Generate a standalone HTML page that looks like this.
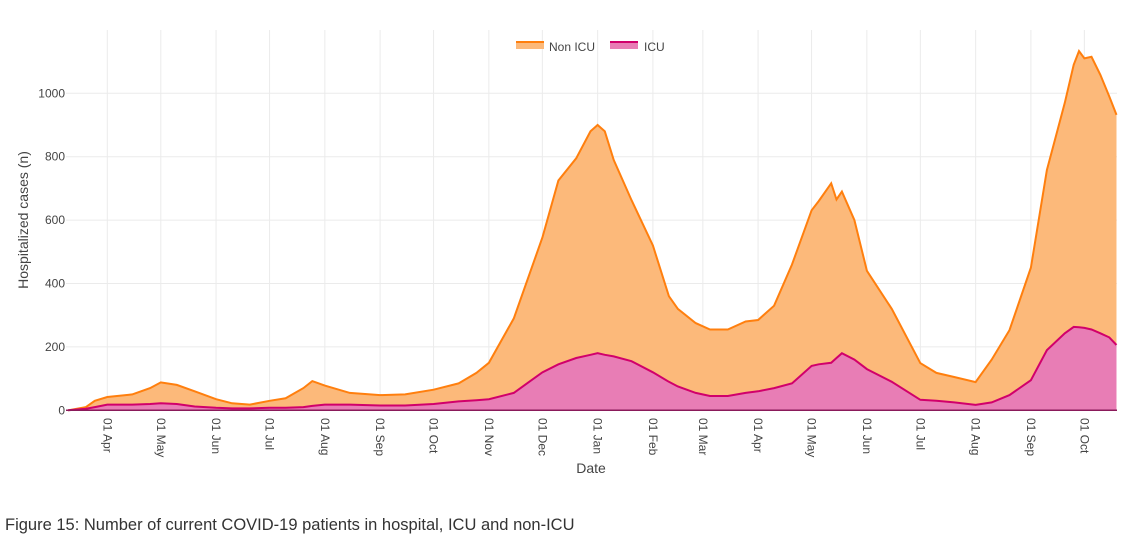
<!DOCTYPE html>
<html><head><meta charset="utf-8"><style>
body{margin:0;background:#fff;width:1126px;height:546px;overflow:hidden;font-family:"Liberation Sans",sans-serif}
svg text{font-family:"Liberation Sans",sans-serif}
</style></head><body>
<svg id="chart" width="1126" height="546" viewBox="0 0 1126 546"></svg>
<script>
const dates=["2020-03-10","2020-03-20","2020-03-25","2020-04-01","2020-04-15","2020-04-25","2020-05-01","2020-05-10","2020-05-20","2020-06-01","2020-06-10","2020-06-20","2020-07-01","2020-07-10","2020-07-20","2020-07-25","2020-08-01","2020-08-15","2020-09-01","2020-09-15","2020-10-01","2020-10-15","2020-10-25","2020-11-01","2020-11-15","2020-12-01","2020-12-10","2020-12-20","2020-12-28","2021-01-01","2021-01-05","2021-01-10","2021-01-20","2021-02-01","2021-02-10","2021-02-15","2021-02-25","2021-03-05","2021-03-15","2021-03-25","2021-04-01","2021-04-10","2021-04-20","2021-05-01","2021-05-05","2021-05-12","2021-05-15","2021-05-18","2021-05-25","2021-06-01","2021-06-15","2021-07-01","2021-07-10","2021-07-20","2021-08-01","2021-08-10","2021-08-20","2021-09-01","2021-09-10","2021-09-20","2021-09-25","2021-09-28","2021-10-01","2021-10-05","2021-10-10","2021-10-15","2021-10-19"];
const totalVals=[0,10,30,42,50,70,88,80,60,35,22,18,30,38,70,92,78,55,48,50,65,85,118,150,290,545,725,795,880,900,880,790,663,520,360,320,275,255,255,280,285,330,460,631,660,716,665,690,600,440,320,149,118,105,89,160,253,450,758,970,1090,1133,1110,1115,1058,990,932];
const icuVals=[0,5,10,18,18,20,22,20,12,8,6,6,8,8,10,14,18,18,15,15,20,28,32,35,55,120,145,165,175,180,175,170,155,120,90,75,55,45,45,55,60,70,85,140,145,150,165,180,160,130,90,33,30,25,17,25,48,95,190,243,263,262,260,255,243,230,206];
const yTicks=[0,200,400,600,800,1000];
const monthTicks=["2020-04-01","2020-05-01","2020-06-01","2020-07-01","2020-08-01","2020-09-01","2020-10-01","2020-11-01","2020-12-01","2021-01-01","2021-02-01","2021-03-01","2021-04-01","2021-05-01","2021-06-01","2021-07-01","2021-08-01","2021-09-01","2021-10-01"];
const monthLabels=["01 Apr","01 May","01 Jun","01 Jul","01 Aug","01 Sep","01 Oct","01 Nov","01 Dec","01 Jan","01 Feb","01 Mar","01 Apr","01 May","01 Jun","01 Jul","01 Aug","01 Sep","01 Oct"];

const NS="http://www.w3.org/2000/svg";
const svg=document.getElementById('chart');
const L=66,R=1117,T=30,B=410.3;
const d0=Date.parse("2020-04-01");
function x(d){return 107.3+(Date.parse(d)-d0)/864e5*1.783;}
function y(v){return B-v*0.317;}
function mk(tag,attrs,parent){const e=document.createElementNS(NS,tag);for(const k in attrs)e.setAttribute(k,attrs[k]);(parent||svg).appendChild(e);return e;}

const grid=mk('g',{});


yTicks.forEach(v=>{if(v>0)mk('line',{x1:L,x2:R,y1:y(v),y2:y(v),stroke:'#ebebeb','stroke-width':1},grid);
 const t=mk('text',{x:L-1,y:y(v)+4,'text-anchor':'end','font-size':12,fill:'#444'});t.textContent=v;
 
 });
monthTicks.forEach((d,i)=>{const xx=x(d);mk('line',{x1:xx,x2:xx,y1:T,y2:B,stroke:'#ebebeb','stroke-width':1},grid);
 const t=mk('text',{transform:`translate(${xx-4},418) rotate(90)`,'font-size':12,fill:'#444'});t.textContent=monthLabels[i];
 
 });

let topPts=dates.map((d,i)=>x(d).toFixed(1)+','+y(totalVals[i]).toFixed(1));
let icuPts=dates.map((d,i)=>x(d).toFixed(1)+','+y(icuVals[i]).toFixed(1));
const x0=x(dates[0]),x1=x(dates[dates.length-1]);
const nonArea=mk('path',{d:'M'+topPts.join('L')+`L${x1},${B}L${x0},${B}Z`,fill:'#fcb97a'});


const icuArea=mk('path',{d:'M'+icuPts.join('L')+`L${x1},${B}L${x0},${B}Z`,fill:'#e87db5'});


const nonLine=mk('path',{d:'M'+topPts.join('L'),fill:'none',stroke:'#ff7f0e','stroke-width':2});


const icuLine=mk('path',{d:'M'+icuPts.join('L'),fill:'none',stroke:'#d1006b','stroke-width':2});


const axis=mk('line',{x1:L,x2:R,y1:B,y2:B,stroke:'#8a1a5a','stroke-width':1.5});



const lg=mk('g',{});


const e1=mk('g',{},lg);


mk('rect',{x:516,y:42,width:28,height:7,fill:'#fcb97a'},e1);
mk('line',{x1:516,x2:544,y1:42,y2:42,stroke:'#ff7f0e','stroke-width':2},e1);
let t=mk('text',{x:549,y:51,'font-size':12,fill:'#444'},e1);t.textContent='Non ICU';
const e2=mk('g',{},lg);


mk('rect',{x:610,y:42,width:28,height:7,fill:'#e87db5'},e2);
mk('line',{x1:610,x2:638,y1:42,y2:42,stroke:'#d1006b','stroke-width':2},e2);
t=mk('text',{x:644,y:51,'font-size':12,fill:'#444'},e2);t.textContent='ICU';

t=mk('text',{x:591,y:473,'text-anchor':'middle','font-size':14,fill:'#444'});t.textContent='Date';


t=mk('text',{transform:'translate(28,220) rotate(-90)','text-anchor':'middle','font-size':14,fill:'#444'});t.textContent='Hospitalized cases (n)';


t=mk('text',{x:5,y:530,'font-size':16.5,fill:'#333'});t.textContent='Figure 15: Number of current COVID-19 patients in hospital, ICU and non-ICU';


</script>
</body></html>
